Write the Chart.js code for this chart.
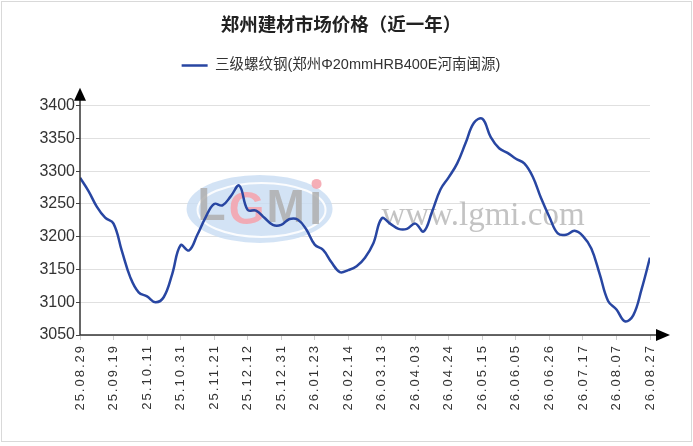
<!DOCTYPE html>
<html>
<head>
<meta charset="utf-8">
<script src="https://cdn.jsdelivr.net/npm/chart.js@4/dist/chart.umd.min.js"></script>
<style>
  html, body { margin: 0; padding: 0; background: #fff; }
  #frame { position: absolute; left: 1px; top: 1px; width: 689px; height: 439px; border: 1px solid #d9d9d9; }
  #wrap { position: absolute; left: 0; top: 0; width: 693px; height: 446px; }
</style>
</head>
<body>
<div id="frame"></div>
<div id="wrap"><canvas id="chart01"></canvas></div>
<script>
// 郑州建材市场价格（近一年） 三级螺纹钢
var dateLabels = ['25.08.29', '25.09.19', '25.10.11', '25.10.31', '25.11.21', '25.12.12',
  '25.12.31', '26.01.23', '26.02.14', '26.03.13', '26.04.03', '26.04.24', '26.05.15',
  '26.06.05', '26.06.26', '26.07.17', '26.08.07', '26.08.27'];

// 4 readings per label interval
var stepsPerLabel = 4;
var prices = [
  3290, 3270, 3246, 3229, 3220, 3178, 3138, 3115, 3109, 3100,
  3108, 3143, 3187, 3179, 3203, 3230, 3250, 3248, 3262, 3278,
  3241, 3240, 3229, 3218, 3218, 3227, 3226, 3211, 3188, 3180,
  3161, 3146, 3149, 3155, 3168, 3190, 3228, 3220, 3212, 3212,
  3220, 3208, 3238, 3272, 3291, 3312, 3343, 3374, 3380, 3352,
  3335, 3328, 3319, 3312, 3292, 3259, 3230, 3205, 3203, 3209,
  3201, 3182, 3143, 3102, 3089, 3071, 3080, 3120, 3168
];

var yMin = 3050, yMax = 3400, yStep = 50;
var seriesName = '三级螺纹钢(郑州Φ20mmHRB400E河南闽源)';
var chartTitle = '郑州建材市场价格（近一年）';

var FONT = '"Liberation Sans", "Noto Sans CJK SC", sans-serif';
var LINE = 'rgb(40, 70, 162)';

var points = prices.map(function(v, k) { return { x: k / stepsPerLabel, y: v }; });

// empty boxes: below the legend, and right of the plot
function spacer(position, size, fullSize) {
  return {
    position: position,
    weight: 500,
    fullSize: fullSize,
    options: {},
    isHorizontal: function() { return position === 'top' || position === 'bottom'; },
    update: function(maxWidth, maxHeight) {
      if (this.isHorizontal()) { this.width = maxWidth; this.height = size; }
      else { this.width = size; this.height = maxHeight; }
    },
    draw: function() {}
  };
}
var spacerPlugin = {
  id: 'spacer',
  beforeInit: function(chart) {
    Chart.layouts.addBox(chart, spacer('top', 23, true));
    Chart.layouts.addBox(chart, spacer('right', 20, false));
  }
};

// watermark + axis arrows
var decoPlugin = {
  id: 'deco',
  beforeDraw: function(chart) {
    var s = chart.scales.x;
    if (!s._spaced) {
      var orig = s.drawLabels;
      s.drawLabels = function(area) {
        this.ctx.save();
        this.ctx.letterSpacing = '2px';
        orig.call(this, area);
        this.ctx.restore();
      };
      s._spaced = true;
    }
  },
  beforeDatasetsDraw: function(chart) {
    var ctx = chart.ctx;
    var a = chart.chartArea;
    ctx.save();
    // LGMI logo
    var cx = a.left + (a.right - a.left) * 0.315, cy = a.top + (a.bottom - a.top) * 0.45;
    ctx.beginPath();
    ctx.ellipse(cx, cy, 73, 34, 0, 0, Math.PI * 2);
    ctx.fillStyle = 'rgba(200, 220, 242, 0.8)';
    ctx.fill();
    ctx.beginPath();
    ctx.ellipse(cx + 2, cy + 1, 64, 27, 0, 0, Math.PI * 2);
    ctx.strokeStyle = 'rgba(255,255,255,0.9)';
    ctx.lineWidth = 2;
    ctx.stroke();
    ctx.font = 'bold 46px "Liberation Sans", sans-serif';
    ctx.textBaseline = 'middle';
    ctx.textAlign = 'center';
    ctx.fillStyle = 'rgba(175,175,175,0.85)';
    ctx.fillText('L', cx - 48, cy - 2);
    ctx.fillStyle = 'rgba(244,165,175,0.9)';
    ctx.fillText('G', cx - 13, cy + 2);
    ctx.fillStyle = 'rgba(175,175,175,0.85)';
    ctx.fillText('M', cx + 26, cy);
    ctx.fillText('I', cx + 56, cy + 2);
    ctx.beginPath();
    ctx.arc(cx + 57, cy - 25, 5, 0, Math.PI * 2);
    ctx.fillStyle = 'rgba(244,165,175,0.9)';
    ctx.fill();
    // www.lgmi.com
    ctx.font = '33px "Liberation Serif", serif';
    ctx.fillStyle = 'rgba(175,175,175,0.75)';
    ctx.textBaseline = 'alphabetic';
    ctx.fillText('www.lgmi.com', a.left + (a.right - a.left) * 0.707, a.top + 119);
    ctx.restore();
  },
  afterDraw: function(chart) {
    var ctx = chart.ctx;
    var a = chart.chartArea;
    ctx.save();
    ctx.strokeStyle = '#333';
    ctx.fillStyle = '#000';
    ctx.lineWidth = 1.5;
    // y axis
    ctx.beginPath();
    ctx.moveTo(a.left, a.bottom);
    ctx.lineTo(a.left, a.top - 8);
    ctx.stroke();
    ctx.beginPath();
    ctx.moveTo(a.left, a.top - 18);
    ctx.lineTo(a.left - 6, a.top - 5);
    ctx.lineTo(a.left + 6, a.top - 5);
    ctx.closePath();
    ctx.fill();
    // x axis
    ctx.beginPath();
    ctx.moveTo(a.left, a.bottom);
    ctx.lineTo(a.right + 10, a.bottom);
    ctx.stroke();
    ctx.beginPath();
    ctx.moveTo(a.right + 20, a.bottom);
    ctx.lineTo(a.right + 6, a.bottom - 6);
    ctx.lineTo(a.right + 6, a.bottom + 6);
    ctx.closePath();
    ctx.fill();
    ctx.restore();
  }
};

var ctx = document.getElementById('chart01');
var myLineChart = new Chart(ctx, {
  type: 'line',
  data: {
    datasets: [{
      label: seriesName,
      data: points,
      borderColor: LINE,
      backgroundColor: LINE,
      borderWidth: 2.5,
      pointRadius: 0,
      tension: 0.4,
      fill: false
    }]
  },
  options: {
    responsive: true,
    maintainAspectRatio: false,
    animation: false,
    layout: {
      padding: { left: 12, right: 23, top: 0, bottom: 0 }
    },
    plugins: {
      title: {
        display: true,
        text: chartTitle,
        color: '#222',
        font: { family: FONT, size: 18.5, weight: 'bold' },
        padding: { top: 15, bottom: 11 }
      },
      legend: {
        position: 'top',
        labels: {
          color: '#333',
          font: { family: FONT, size: 14.5 },
          boxWidth: 26,
          boxHeight: 0,
          padding: 10
        }
      },
      tooltip: { enabled: false }
    },
    scales: {
      x: {
        type: 'linear',
        min: 0,
        max: dateLabels.length - 1,
        afterFit: function(scale) { scale.height = 111; },
        border: { display: false },
        grid: {
          drawOnChartArea: false,
          drawTicks: true,
          tickLength: 5,
          tickColor: '#ccc'
        },
        ticks: {
          stepSize: 1,
          autoSkip: false,
          minRotation: 90,
          maxRotation: 90,
          padding: 4,
          color: '#333',
          font: { family: FONT, size: 13 },
          callback: function(v) { return dateLabels[v]; }
        }
      },
      y: {
        type: 'linear',
        min: yMin,
        max: yMax,
        afterFit: function(scale) { scale.width = 68; },
        border: { display: false },
        grid: {
          color: '#e0e0e0',
          lineWidth: 1,
          tickLength: 4,
          tickColor: '#444'
        },
        ticks: {
          stepSize: yStep,
          padding: 1,
          color: '#333',
          font: { family: FONT, size: 16 },
          callback: function(v) { return String(v); }
        }
      }
    }
  },
  plugins: [spacerPlugin, decoPlugin]
});
</script>
</body>
</html>
